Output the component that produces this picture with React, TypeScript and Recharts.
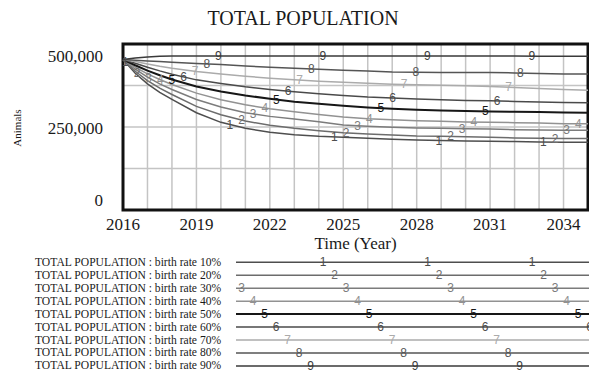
import React from 'react';
import {
  LineChart,
  Line,
  XAxis,
  YAxis,
  CartesianGrid,
  ReferenceArea,
  ReferenceDot,
} from 'recharts';

// Simulation time points (years)
const years = [
  2016, 2016.5, 2017, 2017.5, 2018, 2019, 2020, 2021, 2022, 2023, 2024,
  2025, 2026, 2027, 2028, 2029, 2030, 2031, 2032, 2033, 2034, 2035,
];

// TOTAL POPULATION per birth-rate scenario (animals)
const rate10 = [453000, 412000, 380000, 354000, 333000, 293000, 264000, 246000, 234000, 227000, 222000, 219000, 216000, 213000, 211000, 209000, 208000, 207000, 206000, 205000, 204000, 204000];
const rate20 = [453000, 418000, 390000, 367000, 348000, 312000, 287000, 268000, 255000, 246000, 239000, 233000, 229000, 226000, 223000, 222000, 221000, 219000, 217000, 216000, 215000, 215000];
const rate30 = [453000, 424000, 400000, 380000, 363000, 333000, 310000, 293000, 282000, 274000, 266000, 256000, 252000, 249000, 247000, 246000, 245000, 244000, 242000, 241000, 240000, 240000];
const rate40 = [453000, 430000, 410000, 393000, 378000, 352000, 332000, 317000, 305000, 296000, 288000, 280000, 275000, 272000, 269000, 267000, 265000, 264000, 263000, 262000, 260000, 260000];
const rate50 = [453000, 436000, 420000, 406000, 393000, 372000, 357000, 345000, 335000, 326000, 320000, 314000, 309000, 305000, 302000, 300000, 298000, 297000, 296000, 295000, 294000, 293000];
const rate60 = [453000, 442000, 430000, 419000, 409000, 392000, 381000, 371000, 363000, 356000, 350000, 345000, 340000, 337000, 334000, 332000, 330000, 329000, 327000, 325000, 324000, 323000];
const rate70 = [453000, 447000, 440000, 433000, 427000, 417000, 410000, 403000, 397000, 392000, 388000, 385000, 382000, 379000, 377000, 376000, 374000, 372000, 369000, 366000, 363000, 361000];
const rate80 = [453000, 451000, 449000, 447000, 445000, 441000, 438000, 434000, 430000, 427000, 424000, 421000, 419000, 416000, 415000, 414000, 414000, 414000, 413000, 411000, 410000, 410000];
const rate90 = [453000, 458000, 461000, 463000, 464000, 464000, 464000, 464000, 464000, 464000, 464000, 464000, 464000, 464000, 464000, 464000, 464000, 464000, 464000, 463000, 463000, 463000];

const seriesValues = [rate10, rate20, rate30, rate40, rate50, rate60, rate70, rate80, rate90];
const seriesNames = [
  'birth rate 10%', 'birth rate 20%', 'birth rate 30%', 'birth rate 40%', 'birth rate 50%',
  'birth rate 60%', 'birth rate 70%', 'birth rate 80%', 'birth rate 90%',
];
const seriesColors = ['#4e4e4e', '#6c6c6c', '#7c7c7c', '#929292', '#161616', '#4a4a4a', '#ababab', '#555555', '#3a3a3a'];
const seriesWidths = [1.5, 1.5, 1.5, 1.5, 2, 1.5, 1.5, 1.5, 1.5];

const xTickLabels = [2016, 2019, 2022, 2025, 2028, 2031, 2034];
const yTickLabels = [0, 250000, 500000];
const xGridYears = [2016, 2017, 2018, 2019, 2020, 2021, 2022, 2023, 2024, 2025, 2026, 2027, 2028, 2029, 2030, 2031, 2032, 2033, 2034, 2035];
const yGridValues = [0, 125000, 250000, 375000, 500000];

const X_MIN = 2016;
const X_MAX = 2035;
const Y_MAX = 500000;

const SERIF = '"Liberation Serif", "Times New Roman", serif';
const SANS = '"Liberation Sans", Arial, sans-serif';

const data = years.map((year, i) => {
  const row: Record<string, number> = { year };
  seriesValues.forEach((vals, k) => {
    row[`s${k + 1}`] = vals[i];
  });
  return row;
});

function valueAt(vals: number[], x: number): number {
  for (let i = 0; i < years.length - 1; i++) {
    if (x >= years[i] && x <= years[i + 1]) {
      const t = (x - years[i]) / (years[i + 1] - years[i]);
      return vals[i] + t * (vals[i + 1] - vals[i]);
    }
  }
  return vals[vals.length - 1];
}

// Series number markers repeat along each line, staggered per series
const MARK_START = 0.1;
const MARK_STAGGER = 0.475;
const MARK_STEP = 4.27;

const markers: { k: number; x: number; y: number }[] = [];
seriesValues.forEach((vals, k) => {
  for (let j = 0; j < 6; j++) {
    const x = X_MIN + MARK_START + k * MARK_STAGGER + j * MARK_STEP;
    if (x < X_MAX - 0.05) markers.push({ k, x, y: valueAt(vals, x) });
  }
});

const YTick = (props: any) => {
  const { x, y, payload } = props;
  const v = payload.value as number;
  if (!yTickLabels.includes(v)) return null;
  let dy = 1.5;
  if (v === Y_MAX) dy = 12;
  if (v === 0) dy = -10;
  return (
    <text x={x} y={y + dy} textAnchor="end" dominantBaseline="central" fontFamily={SERIF} fontSize={17} fill="#1a1a1a">
      {v.toLocaleString('en-US')}
    </text>
  );
};

const XTick = (props: any) => {
  const { x, y, payload } = props;
  const v = payload.value as number;
  if (!xTickLabels.includes(v)) return null;
  return (
    <text x={x} y={y + 14.5} textAnchor="middle" dominantBaseline="central" fontFamily={SERIF} fontSize={17} fill="#1a1a1a">
      {v}
    </text>
  );
};

const NumberMark = (k: number) => (p: any) => (
  <text
    x={p.cx}
    y={p.cy}
    textAnchor="middle"
    dominantBaseline="central"
    fontFamily={SANS}
    fontSize={12}
    fill={seriesColors[k]}
    stroke="none"
  >
    {k + 1}
  </text>
);

// Legend geometry
const LEG_TOP = 255;
const LEG_ROW0 = 7.3;
const LEG_ROW_H = 12.95;
const LEG_TEXT_X = 35;
const LEG_LINE_X1 = 236;
const LEG_LINE_X2 = 589;
const LEG_MARK_START = 218.7;
const LEG_MARK_STAGGER = 11.5;
const LEG_MARK_STEP = 104.5;

const LegendBlock = () => (
  <svg width={589} height={118} style={{ position: 'absolute', left: 0, top: LEG_TOP }}>
    {seriesNames.map((name, k) => {
      const y = LEG_ROW0 + k * LEG_ROW_H;
      const marks: number[] = [];
      for (let j = 0; j < 5; j++) {
        const mx = LEG_MARK_START + k * LEG_MARK_STAGGER + j * LEG_MARK_STEP;
        if (mx >= LEG_LINE_X1 + 3 && mx <= LEG_LINE_X2 + 4) marks.push(mx);
      }
      return (
        <g key={name}>
          <text x={LEG_TEXT_X} y={y} dominantBaseline="central" fontFamily={SERIF} fontSize={11.6} fill="#1a1a1a">
            {`TOTAL POPULATION : ${name}`}
          </text>
          <line x1={LEG_LINE_X1} x2={LEG_LINE_X2} y1={y} y2={y} stroke={seriesColors[k]} strokeWidth={seriesWidths[k]} />
          {marks.map((mx) => (
            <text key={mx} x={mx} y={y} textAnchor="middle" dominantBaseline="central" fontFamily={SANS} fontSize={12} fill={seriesColors[k]}>
              {k + 1}
            </text>
          ))}
        </g>
      );
    })}
  </svg>
);

export default function App() {
  return (
    <div style={{ position: 'absolute', left: 0, top: 0, width: 589, height: 373, background: '#fff' }}>
      <svg width={589} height={40} style={{ position: 'absolute', left: 0, top: 0 }}>
        <text x={303} y={18} textAnchor="middle" dominantBaseline="central" fontFamily={SERIF} fontSize={20} fill="#1a1a1a">
          TOTAL POPULATION
        </text>
      </svg>
      <div style={{ position: 'absolute', left: 0, top: 0 }}>
        <LineChart width={589} height={255} data={data} margin={{ top: 44, right: 1, bottom: 0, left: 0 }}>
          <CartesianGrid stroke="#c4c4c4" strokeWidth={1.5} />
          <XAxis
            dataKey="year"
            type="number"
            domain={[X_MIN, X_MAX]}
            ticks={xGridYears}
            interval={0}
            height={45}
            axisLine={false}
            tickLine={false}
            tickSize={0}
            tickMargin={0}
            tick={<XTick />}
            label={{
              content: (p: any) => {
                const vb = p.viewBox;
                return (
                  <text x={vb.x + vb.width / 2} y={vb.y + 33} textAnchor="middle" dominantBaseline="central" fontFamily={SERIF} fontSize={17} fill="#1a1a1a">
                    Time (Year)
                  </text>
                );
              },
            }}
          />
          <YAxis
            type="number"
            domain={[0, Y_MAX]}
            ticks={yGridValues}
            interval={0}
            width={123}
            axisLine={false}
            tickLine={false}
            tickSize={0}
            tickMargin={20}
            tick={<YTick />}
            label={{
              content: (p: any) => {
                const vb = p.viewBox;
                const cx = vb.x + 17;
                const cy = vb.y + vb.height / 2 + 1;
                return (
                  <text x={cx} y={cy} transform={`rotate(-90 ${cx} ${cy})`} textAnchor="middle" dominantBaseline="central" fontFamily={SERIF} fontSize={11} fill="#1a1a1a">
                    Animals
                  </text>
                );
              },
            }}
          />
          {seriesValues.map((_, k) => (
            <Line
              key={k}
              type="linear"
              dataKey={`s${k + 1}`}
              stroke={seriesColors[k]}
              strokeWidth={seriesWidths[k]}
              dot={false}
              activeDot={false}
              isAnimationActive={false}
            />
          ))}
          {markers.map((m, i) => (
            <ReferenceDot key={i} x={m.x} y={m.y} r={0} shape={NumberMark(m.k)} />
          ))}
          <ReferenceArea x1={X_MIN} x2={X_MAX} y1={0} y2={Y_MAX} fill="none" stroke="#111" strokeWidth={3} ifOverflow="visible" />
        </LineChart>
      </div>
      <LegendBlock />
    </div>
  );
}
